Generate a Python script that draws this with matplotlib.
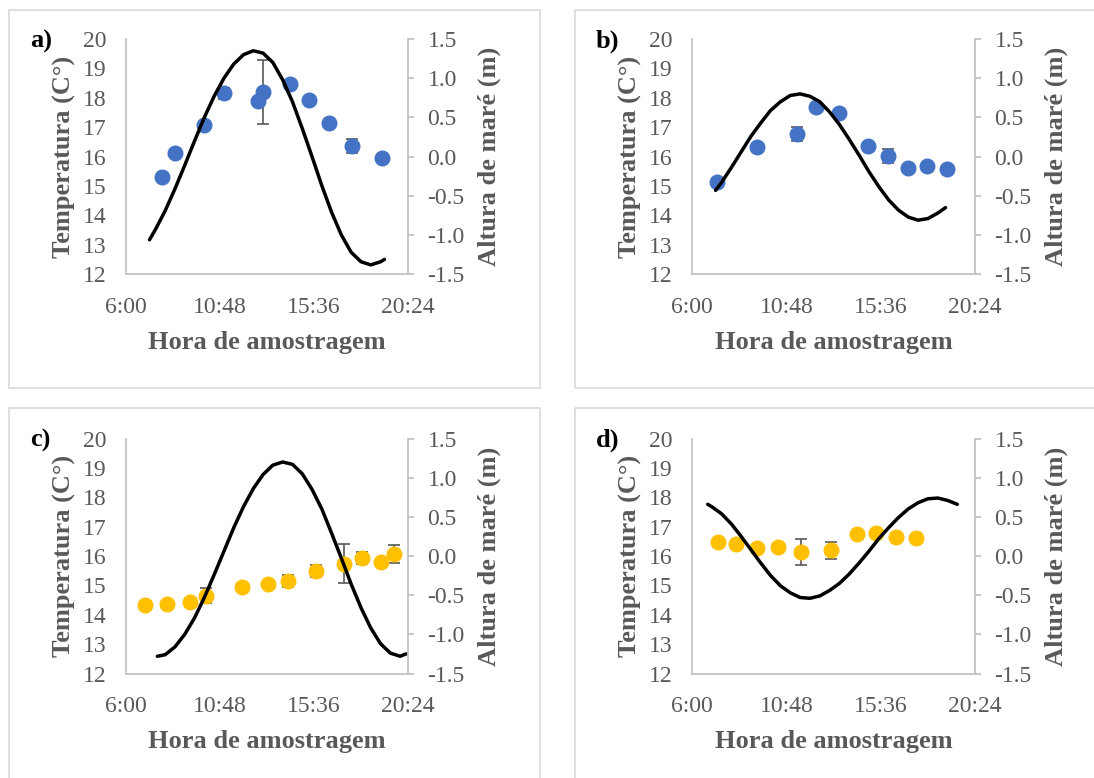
import matplotlib
matplotlib.use("Agg")
import matplotlib.pyplot as plt
from matplotlib.patches import Rectangle
from matplotlib.ticker import FixedLocator, FuncFormatter

plt.rcParams["font.family"] = ["Liberation Serif", "DejaVu Serif"]

GRAY = "#595959"
SPINE = "#bfbfbf"
BLUE = "#4472C4"
YELLOW = "#FFC000"

# sampling time (decimal hours), mean temperature and standard deviation
hora_a = [7.83, 8.51, 10.00, 11.02, 12.75, 13.01, 14.37, 15.36, 16.35, 17.52, 19.05]
temp_a = [15.31, 16.12, 17.07, 18.15, 17.88, 18.20, 18.47, 17.94, 17.15, 16.37, 15.94]
erro_a = [0, 0, 0, 0.2, 0, 1.09, 0, 0, 0, 0.23, 0]

hora_b = [7.29, 9.29, 11.33, 12.30, 13.48, 14.94, 15.96, 16.98, 17.98, 18.99]
temp_b = [15.14, 16.34, 16.78, 17.70, 17.47, 16.37, 16.02, 15.60, 15.69, 15.59]
erro_b = [0, 0, 0.24, 0, 0, 0, 0.23, 0, 0, 0]

hora_c = [6.97, 8.07, 9.25, 10.10, 11.93, 13.26, 14.27, 15.70, 17.11, 18.03, 19.04, 19.66]
temp_c = [14.33, 14.36, 14.44, 14.65, 14.96, 15.05, 15.15, 15.50, 15.74, 15.94, 15.78, 16.07]
erro_c = [0, 0, 0, 0.25, 0, 0, 0.2, 0.2, 0.67, 0.2, 0, 0.3]

hora_d = [7.31, 8.22, 9.29, 10.39, 11.55, 13.06, 14.41, 15.36, 16.38, 17.38]
temp_d = [16.49, 16.40, 16.26, 16.30, 16.13, 16.19, 16.76, 16.78, 16.66, 16.60]
erro_d = [0, 0, 0, 0, 0.44, 0.28, 0, 0, 0, 0]

# tide height (m) through the day
mare_hora_a = [7.2, 7.5, 8.0, 8.5, 9.0, 9.5, 10.0, 10.5, 11.0, 11.5, 12.0, 12.5, 13.0,
               13.5, 14.0, 14.5, 15.0, 15.5, 16.0, 16.5, 17.0, 17.5, 18.0, 18.5, 19.0, 19.2]
mare_a = [-1.06, -0.93, -0.69, -0.41, -0.11, 0.20, 0.50, 0.77, 1.00, 1.18, 1.30, 1.35, 1.32,
          1.20, 0.98, 0.70, 0.36, 0.00, -0.37, -0.71, -1.00, -1.22, -1.34, -1.38, -1.34, -1.31]

mare_hora_b = [7.2, 7.5, 8.0, 8.5, 9.0, 9.5, 10.0, 10.5, 11.0, 11.5, 12.0, 12.5, 13.0,
               13.5, 14.0, 14.5, 15.0, 15.5, 16.0, 16.5, 17.0, 17.5, 18.0, 18.5, 18.9]
mare_b = [-0.43, -0.33, -0.14, 0.06, 0.26, 0.43, 0.59, 0.70, 0.78, 0.80, 0.77, 0.70, 0.57,
          0.41, 0.22, 0.02, -0.19, -0.38, -0.55, -0.68, -0.77, -0.81, -0.79, -0.72, -0.65]

mare_hora_c = [7.6, 8.0, 8.5, 9.0, 9.5, 10.0, 10.5, 11.0, 11.5, 12.0, 12.5, 13.0, 13.5, 14.0,
               14.5, 15.0, 15.5, 16.0, 16.5, 17.0, 17.5, 18.0, 18.5, 19.0, 19.5, 20.0, 20.3]
mare_c = [-1.28, -1.26, -1.16, -1.00, -0.79, -0.53, -0.24, 0.06, 0.36, 0.63, 0.86, 1.04, 1.16, 1.20,
          1.17, 1.05, 0.85, 0.60, 0.29, -0.03, -0.36, -0.66, -0.92, -1.12, -1.24, -1.28, -1.25]

mare_hora_d = [6.8, 7.0, 7.5, 8.0, 8.5, 9.0, 9.5, 10.0, 10.5, 11.0, 11.5, 12.0, 12.5, 13.0,
               13.5, 14.0, 14.5, 15.0, 15.5, 16.0, 16.5, 17.0, 17.5, 18.0, 18.5, 19.0, 19.5]
mare_d = [0.66, 0.63, 0.54, 0.41, 0.25, 0.08, -0.09, -0.25, -0.38, -0.47, -0.53, -0.54, -0.51, -0.44,
          -0.35, -0.23, -0.09, 0.06, 0.22, 0.36, 0.49, 0.60, 0.68, 0.73, 0.74, 0.71, 0.66]

W, H = 1094, 778


def hhmm(h, pos=None):
    minutos = int(round(h * 60))
    return f"{minutos // 60}:{minutos % 60:02d}"


def painel(fig, caixa, eixo, letra, hora, temp, erro, mare_hora, mare, cor):
    # light frame around each chart
    bx0, by0, bx1, by1 = caixa
    fig.patches.append(Rectangle((bx0 / W, 1 - by1 / H), (bx1 - bx0) / W, (by1 - by0) / H,
                                 transform=fig.transFigure, fill=False,
                                 edgecolor="#d9d9d9", lw=1.2))

    left, top, right, bottom = eixo
    ax = fig.add_axes([left / W, 1 - bottom / H, (right - left) / W, (bottom - top) / H])
    ax.errorbar(hora, temp, yerr=erro, fmt="o", ms=10.5, color=cor, ecolor=GRAY,
                elinewidth=1.2, capsize=4, capthick=1.2, zorder=3)
    ax.set_xlim(6, 20.4)
    ax.set_ylim(12, 20)
    ax.xaxis.set_major_locator(FixedLocator([6, 10.8, 15.6, 20.4]))
    ax.xaxis.set_major_formatter(FuncFormatter(hhmm))
    ax.yaxis.set_major_locator(FixedLocator(range(12, 21)))
    ax.tick_params(axis="both", length=0, labelcolor=GRAY, labelsize=17)
    ax.tick_params(axis="x", pad=16.5)
    ax.tick_params(axis="y", pad=14)
    for s in ("top", "right"):
        ax.spines[s].set_visible(False)
    for s in ("left", "bottom"):
        ax.spines[s].set_color(SPINE)
        ax.spines[s].set_linewidth(1.2)
    ax.set_xlabel("Hora de amostragem", fontsize=19, fontweight="bold", color=GRAY, labelpad=9)
    ax.set_ylabel("Temperatura (C°)", fontsize=19, fontweight="bold", color=GRAY, labelpad=5)

    ax2 = ax.twinx()
    ax2.plot(mare_hora, mare, color="black", lw=2.5,
             solid_capstyle="round", solid_joinstyle="round")
    ax2.set_ylim(-1.5, 1.5)
    ax2.yaxis.set_major_locator(FixedLocator([-1.5, -1.0, -0.5, 0.0, 0.5, 1.0, 1.5]))
    ax2.yaxis.set_major_formatter(FuncFormatter(lambda v, p: f"{round(v, 1) + 0:.1f}"))
    ax2.tick_params(axis="y", length=4, width=1.2, color=SPINE, labelcolor=GRAY,
                    labelsize=17, pad=10)
    for s in ("top", "left", "bottom"):
        ax2.spines[s].set_visible(False)
    ax2.spines["right"].set_color(SPINE)
    ax2.spines["right"].set_linewidth(1.2)
    ax2.set_ylabel("Altura de maré (m)", fontsize=19, fontweight="bold", color=GRAY, labelpad=9)

    fig.text((left - 96) / W, 1 - (top + 2) / H, letra, fontsize=19, fontweight="bold",
             color="black", ha="left", va="center")


fig = plt.figure(figsize=(W / 100, H / 100), dpi=100)

painel(fig, (9, 10, 540, 388), (126, 39, 408, 274.3), "a)",
       hora_a, temp_a, erro_a, mare_hora_a, mare_a, BLUE)
painel(fig, (575, 10, 1110, 388), (692, 39, 975, 274.3), "b)",
       hora_b, temp_b, erro_b, mare_hora_b, mare_b, BLUE)
painel(fig, (9, 408, 540, 800), (126, 438.5, 408, 673.5), "c)",
       hora_c, temp_c, erro_c, mare_hora_c, mare_c, YELLOW)
painel(fig, (575, 408, 1110, 800), (692, 438.5, 975, 673.5), "d)",
       hora_d, temp_d, erro_d, mare_hora_d, mare_d, YELLOW)

fig.savefig("out.png", dpi=100)
